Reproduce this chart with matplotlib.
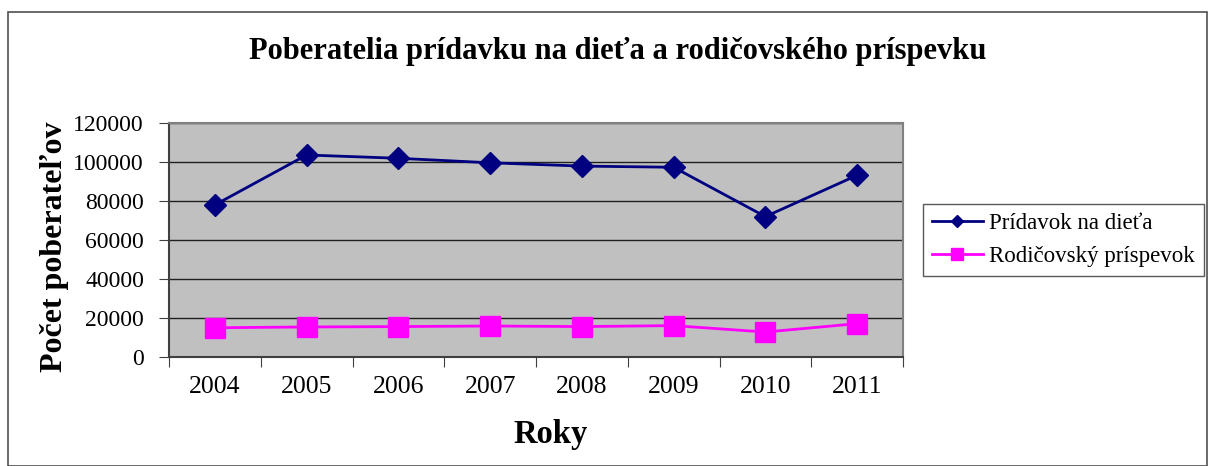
import numpy as np
import matplotlib.pyplot as plt
from matplotlib.patches import Rectangle

years = ['2004', '2005', '2006', '2007', '2008', '2009', '2010', '2011']
pridavok = [78000, 103600, 101900, 99600, 97900, 97300, 72000, 93200]
rodicovsky = [15000, 15400, 15600, 15900, 15600, 16100, 12800, 17100]

plt.rcParams['font.family'] = ['Liberation Serif', 'DejaVu Serif']

fig = plt.figure(figsize=(12.08, 4.66), dpi=100)
# outer chart frame
fig.patches.append(Rectangle((8 / 1208, 0.0), 1199 / 1208, 454 / 466, transform=fig.transFigure,
                             fill=False, edgecolor='#505050', linewidth=1.2))

ax = fig.add_axes([169 / 1208, 109 / 466, 734 / 1208, 234 / 466])
ax.set_facecolor('#C0C0C0')
x = np.arange(len(years))

ax.plot(x, pridavok, color='#000080', linewidth=2, marker='D', markersize=11,
        label='Prídavok na dieťa')
ax.plot(x, rodicovsky, color='#FF00FF', linewidth=2, marker='s', markersize=15,
        label='Rodičovský príspevok')

ax.set_ylim(0, 120000)
ax.set_yticks(np.arange(0, 120001, 20000))
ax.yaxis.grid(True, color='#202020', linewidth=1)
ax.set_axisbelow(True)

# category axis: ticks between years, labels centred
ax.set_xlim(-0.5, len(years) - 0.5)
ax.set_xticks(np.arange(-0.5, len(years), 1))
ax.set_xticklabels([])
ax.set_xticks(x, minor=True)
ax.set_xticklabels(years, minor=True)
ax.tick_params(axis='x', which='minor', length=0, labelsize=18.5, pad=14)
ax.tick_params(axis='x', which='major', length=7, color='#404040')
ax.tick_params(axis='y', labelsize=17, length=7, pad=11, color='#404040')

for s in ax.spines.values():
    s.set_color('#808080')
    s.set_linewidth(1.5)
ax.spines['left'].set_color('#404040')
ax.spines['bottom'].set_color('#404040')

fig.text(551 / 1208, 1 - 435 / 466, 'Roky', ha='center', va='center',
         fontsize=23.5, fontweight='bold')
fig.text(55 / 1208, 1 - 247 / 466, 'Počet poberateľov', ha='center', va='center',
         rotation=90, fontsize=23, fontweight='bold')
fig.text(618 / 1208, 1 - 52 / 466, 'Poberatelia prídavku na dieťa a rodičovského príspevku',
         ha='center', va='center', fontsize=22, fontweight='bold')

leg = fig.legend(loc='center left', bbox_to_anchor=(923 / 1208, 1 - 240 / 466), fontsize=16.5,
                 frameon=True, fancybox=False, edgecolor='#303030', markerscale=0.6,
                 handlelength=2.2, handletextpad=0.3, borderpad=0.4, labelspacing=0.5,
                 borderaxespad=0)
leg.get_frame().set_linewidth(1)

fig.savefig('out.png', dpi=100)
